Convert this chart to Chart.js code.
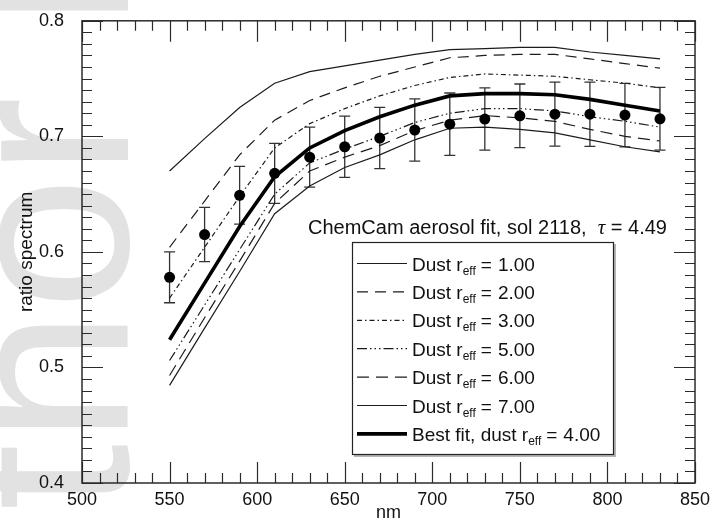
<!DOCTYPE html>
<html>
<head>
<meta charset="utf-8">
<title>ChemCam aerosol fit, sol 2118</title>
<script src="https://cdn.jsdelivr.net/npm/chart.js@4.4.0/dist/chart.umd.min.js"></script>
<style>
  html, body { margin: 0; padding: 0; background: #fff; }
  #wrap { position: relative; width: 715px; height: 522px; overflow: hidden; }
  #wm {
    position: absolute; left: 0; top: 0;
    font-family: "Liberation Sans", Arial, Helvetica, sans-serif;
    font-size: 240px; line-height: 1; color: #e2e2e2; white-space: nowrap;
    transform-origin: 0 0;
    transform: translate(-75px, 804px) rotate(-90deg);
  }
  canvas { position: absolute; left: 0; top: 0; }
</style>
</head>
<body>
<div id="wrap">
  <div id="wm">Author Manuscript</div>
  <canvas id="chart" width="715" height="522"></canvas>
</div>
<script>
// wavelengths (nm) of the model curves and of the measured ratio
const wavelengths = [550, 570, 590, 610, 630, 650, 670, 690, 710, 730, 750, 770, 790, 810, 830];

// model ratio spectra for each dust effective radius
const dust100 = [0.670, 0.698, 0.725, 0.746, 0.756, 0.761, 0.766, 0.771, 0.775, 0.776, 0.777, 0.777, 0.773, 0.770, 0.767];
const dust200 = [0.604, 0.644, 0.684, 0.714, 0.731, 0.742, 0.752, 0.760, 0.768, 0.770, 0.771, 0.771, 0.767, 0.763, 0.759];
const dust300 = [0.560, 0.604, 0.648, 0.690, 0.711, 0.724, 0.735, 0.744, 0.751, 0.754, 0.753, 0.752, 0.749, 0.746, 0.742];
const dust500 = [0.506, 0.554, 0.602, 0.650, 0.677, 0.689, 0.700, 0.712, 0.720, 0.724, 0.724, 0.722, 0.717, 0.713, 0.708];
const dust600 = [0.493, 0.543, 0.592, 0.642, 0.670, 0.682, 0.692, 0.705, 0.714, 0.718, 0.716, 0.713, 0.706, 0.700, 0.696];
const dust700 = [0.4845, 0.534, 0.583, 0.633, 0.657, 0.673, 0.684, 0.697, 0.707, 0.708, 0.706, 0.703, 0.697, 0.691, 0.6865];
const bestFit = [0.524, 0.573, 0.622, 0.665, 0.690, 0.705, 0.717, 0.727, 0.735, 0.737, 0.737, 0.736, 0.732, 0.727, 0.722];

// measured ratio spectrum and its error (half width of the bar)
const observed    = [0.578, 0.615, 0.649, 0.668, 0.682, 0.691, 0.6985, 0.7055, 0.7105, 0.715, 0.7178, 0.7192, 0.7192, 0.7184, 0.7152];
const observedErr = [0.022, 0.0235, 0.025, 0.026, 0.026, 0.0265, 0.0265, 0.027, 0.027, 0.027, 0.0275, 0.0277, 0.0278, 0.0275, 0.0272];

// legend radii and annotation
const dustRadii = ['1.00', '2.00', '3.00', '5.00', '6.00', '7.00'];
const bestRadius = '4.00';
const solNumber = '2118';
const tauValue = '4.49';

// axes
const xTickValues = [500, 550, 600, 650, 700, 750, 800, 850];
const yTickValues = [0.4, 0.5, 0.6, 0.7, 0.8];
const xMinorStep = 10;
const yMinorStep = 0.01;

const FONT = '"Liberation Sans", Arial, Helvetica, sans-serif';
const INK = '#1c1c1c';

// line styles, same order as the legend rows
const styles = [
  { dash: [], width: 1.2 },
  { dash: [11, 7], width: 1.2 },
  { dash: [5, 3, 1.5, 3], width: 1.2 },
  { dash: [10, 3, 1.5, 3, 1.5, 3, 1.5, 3], width: 1.2 },
  { dash: [12, 7], width: 1.2 },
  { dash: [], width: 1.2 },
  { dash: [], width: 3.6 }
];

const toXY = (arr) => arr.map((v, i) => ({ x: wavelengths[i], y: v }));

const modelSeries = [dust100, dust200, dust300, dust500, dust600, dust700];

const datasets = [
  {
    label: 'measured',
    data: toXY(observed),
    showLine: false,
    pointRadius: 5.5,
    pointHoverRadius: 5.5,
    pointBackgroundColor: '#000',
    pointBorderColor: '#000',
    pointBorderWidth: 0,
    order: 0
  },
  {
    label: 'Best fit',
    data: toXY(bestFit),
    borderColor: '#000',
    borderWidth: styles[6].width,
    pointRadius: 0,
    fill: false,
    tension: 0,
    order: 1
  }
];
modelSeries.forEach((s, i) => {
  datasets.push({
    label: 'Dust ' + dustRadii[i],
    data: toXY(s),
    borderColor: INK,
    borderWidth: styles[i].width,
    borderDash: styles[i].dash,
    borderCapStyle: 'butt',
    pointRadius: 0,
    fill: false,
    tension: 0,
    order: 2
  });
});

// error bars under the dots
const errorBars = {
  id: 'errorBars',
  beforeDatasetsDraw(chart) {
    const { ctx, scales: { x, y } } = chart;
    ctx.save();
    ctx.strokeStyle = '#333';
    ctx.lineWidth = 1.3;
    ctx.beginPath();
    wavelengths.forEach((w, i) => {
      const px = x.getPixelForValue(w);
      const top = y.getPixelForValue(observed[i] + observedErr[i]);
      const bot = y.getPixelForValue(observed[i] - observedErr[i]);
      ctx.moveTo(px, top); ctx.lineTo(px, bot);
      ctx.moveTo(px - 5.5, top); ctx.lineTo(px + 5.5, top);
      ctx.moveTo(px - 5.5, bot); ctx.lineTo(px + 5.5, bot);
    });
    ctx.stroke();
    ctx.restore();
  }
};

// frame with inward ticks on all four sides, annotation and legend
const frame = {
  id: 'frame',
  afterDatasetsDraw(chart) {
    const { ctx, chartArea: a, scales: { x, y } } = chart;
    ctx.save();
    ctx.strokeStyle = '#2b2b2b';
    ctx.lineWidth = 1.2;
    ctx.beginPath();
    for (let v = x.min; v <= x.max + 0.001; v += xMinorStep) {
      const px = Math.round(x.getPixelForValue(v)) + 0.5;
      const len = Math.abs(v % 50) < 0.001 ? 21 : 10;
      ctx.moveTo(px, a.bottom); ctx.lineTo(px, a.bottom - len);
      ctx.moveTo(px, a.top); ctx.lineTo(px, a.top + len);
    }
    const nY = Math.round((y.max - y.min) / yMinorStep);
    for (let k = 0; k <= nY; k++) {
      const v = y.min + k * yMinorStep;
      const py = Math.round(y.getPixelForValue(v)) + 0.5;
      const len = k % 10 === 0 ? 21 : 10;
      ctx.moveTo(a.left, py); ctx.lineTo(a.left + len, py);
      ctx.moveTo(a.right, py); ctx.lineTo(a.right - len, py);
    }
    ctx.stroke();
    ctx.lineWidth = 1.5;
    ctx.strokeRect(a.left, a.top, a.right - a.left, a.bottom - a.top);

    // annotation
    ctx.fillStyle = '#111';
    ctx.textBaseline = 'alphabetic';
    ctx.textAlign = 'left';
    let tx = 308;
    const ty = 234;
    ctx.font = '20px ' + FONT;
    const part1 = 'ChemCam aerosol fit, sol ' + solNumber + ',  ';
    ctx.fillText(part1, tx, ty);
    tx += ctx.measureText(part1).width;
    ctx.font = 'italic 21px "Liberation Serif", "Times New Roman", serif';
    ctx.fillText('\u03C4', tx, ty);
    tx += ctx.measureText('\u03C4').width;
    ctx.font = '20px ' + FONT;
    ctx.fillText(' = ' + tauValue, tx, ty);

    // legend box with a soft shadow
    const bx = 352, by = 242, bw = 261, bh = 212;
    ctx.fillStyle = '#b5b5b5';
    ctx.fillRect(bx + 2, by + 2, bw + 1, bh + 1);
    ctx.fillStyle = '#fff';
    ctx.fillRect(bx, by, bw, bh);
    ctx.strokeStyle = '#222';
    ctx.lineWidth = 1.2;
    ctx.setLineDash([]);
    ctx.strokeRect(bx + 0.5, by + 0.5, bw, bh);

    const rows = dustRadii.map((r) => ({ pre: 'Dust r', val: r }));
    rows.push({ pre: 'Best fit, dust r', val: bestRadius });
    rows.forEach((row, i) => {
      const cy = 263.5 + i * 28.4;
      const st = styles[i];
      ctx.save();
      ctx.strokeStyle = i === 6 ? '#000' : INK;
      ctx.lineWidth = st.width;
      ctx.setLineDash(st.dash);
      ctx.beginPath();
      ctx.moveTo(357, cy); ctx.lineTo(407, cy);
      ctx.stroke();
      ctx.restore();
      let lx = 412;
      const base = cy + 7;
      ctx.fillStyle = '#111';
      ctx.font = '19px ' + FONT;
      ctx.fillText(row.pre, lx, base);
      lx += ctx.measureText(row.pre).width;
      ctx.font = '12px ' + FONT;
      ctx.fillText('eff', lx, base + 4);
      lx += ctx.measureText('eff').width + 5;
      ctx.font = '19px ' + FONT;
      ctx.fillText('=', lx, base);
      lx += ctx.measureText('=').width + 6;
      ctx.fillText(row.val, lx, base);
    });
    ctx.restore();
  }
};

Chart.defaults.font.family = FONT;
Chart.defaults.color = '#111';

new Chart(document.getElementById('chart').getContext('2d'), {
  type: 'line',
  data: { datasets: datasets },
  options: {
    responsive: false,
    devicePixelRatio: 1,
    animation: false,
    events: [],
    layout: { padding: { top: 19, right: 20, left: 0, bottom: 0 } },
    plugins: { legend: { display: false }, tooltip: { enabled: false } },
    scales: {
      x: {
        type: 'linear',
        min: 500,
        max: 850,
        grid: { display: false },
        border: { display: false },
        afterBuildTicks: (s) => { s.ticks = xTickValues.map((v) => ({ value: v })); },
        afterFit: (s) => { s.height = 39; },
        ticks: { font: { size: 18 }, padding: -2, maxRotation: 0, callback: (v) => String(v) },
        title: { display: true, text: 'nm', font: { size: 18, lineHeight: 1 }, padding: { top: 0, bottom: 0 } }
      },
      y: {
        type: 'linear',
        min: 0.4,
        max: 0.8,
        grid: { display: false },
        border: { display: false },
        afterBuildTicks: (s) => { s.ticks = yTickValues.map((v) => ({ value: v })); },
        afterFit: (s) => { s.width = 82; },
        ticks: { font: { size: 18 }, padding: 10, callback: (v) => Number(v).toFixed(1) },
        title: { display: true, text: 'ratio spectrum', font: { size: 19 }, padding: { top: 15, bottom: 0 } }
      }
    }
  },
  plugins: [errorBars, frame]
});
</script>
</body>
</html>
